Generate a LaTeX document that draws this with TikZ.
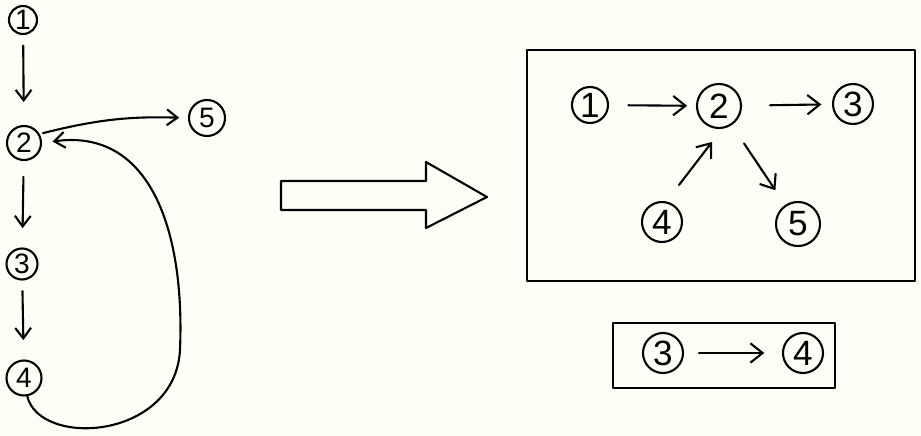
\documentclass[tikz,border=0pt]{standalone}
\usepackage{fontspec}
\setmainfont{Liberation Sans}
\usetikzlibrary{arrows.meta,calc}
\definecolor{paper}{RGB}{255,254,246}
\begin{document}
\begin{tikzpicture}[x=0.02cm,y=-0.02cm,
  ink/.style={line width=1.2pt, line cap=round, line join=round},
  arr/.style={ink, -{Straight Barb[length=6pt,width=9pt,line width=1.2pt]}},
  barr/.style={ink, -{Straight Barb[length=7pt,width=11pt,line width=1.2pt]}},
  sn/.style={circle, draw, ink, inner sep=0pt, font=\fontsize{16}{16}\selectfont},
  bn/.style={circle, draw, ink, inner sep=0pt, minimum size=0.8cm, font=\fontsize{20}{20}\selectfont}
]
\fill[paper] (0,0) rectangle (921,436);
\useasboundingbox (0,0) rectangle (921,436);

% chain on the left
\node[sn, minimum size=0.56cm] (a1) at (23,20) {1};
\node[sn, minimum size=0.68cm] (a2) at (24,143) {2};
\node[sn, minimum size=0.62cm] (a3) at (22,264) {3};
\node[sn, minimum size=0.7cm]  (a4) at (24,378) {4};
\node[sn, minimum size=0.72cm] (a5) at (207,118) {5};

\draw[arr, shorten <=6pt, shorten >=13pt] (a1) -- (a2);
\draw[arr, shorten <=9pt, shorten >=11pt] (a2) -- (a3);
\draw[arr, shorten <=6pt, shorten >=11pt] (a3) -- (a4);
\draw[arr, shorten <=2pt, shorten >=5pt] (a2.30) to[bend left=8] (a5.west);
\draw[arr, shorten >=6pt] (a4.-80) .. controls (40,448) and (175,440) .. (180,350)
      .. controls (185,230) and (150,128) .. (a2.east);

% block arrow
\draw[ink] (281,181) -- (426,181) -- (426,162) -- (487,197) -- (426,228)
      -- (426,210) -- (281,210) -- cycle;

% upper frame
\draw[ink] (527,50) rectangle (915,281);
\node[bn, minimum size=0.72cm] (b1) at (590,105) {1};
\node[bn, minimum size=0.88cm] (b2) at (719,106) {2};
\node[bn] (b3) at (853,104) {3};
\node[bn] (b4) at (662,222) {4};
\node[bn, minimum size=0.88cm] (b5) at (798,224) {5};

\draw[barr, shorten <=11pt, shorten >=5pt] (b1) -- (b2);
\draw[barr, shorten <=16pt, shorten >=6pt] (b2) -- (b3);
\draw[barr] ($(b4)+(17,-37)$) -- ($(b4)+(50,-80)$);
\draw[barr, shorten <=12.5pt, shorten >=10pt] (b2) -- (b5);

% lower frame
\draw[ink] (613,323) rectangle (835,388);
\node[bn] (c3) at (663,353) {3};
\node[bn] (c4) at (803,353) {4};
\draw[barr, shorten <=8.5pt, shorten >=10pt] (c3) -- (c4);
\end{tikzpicture}
\end{document}
